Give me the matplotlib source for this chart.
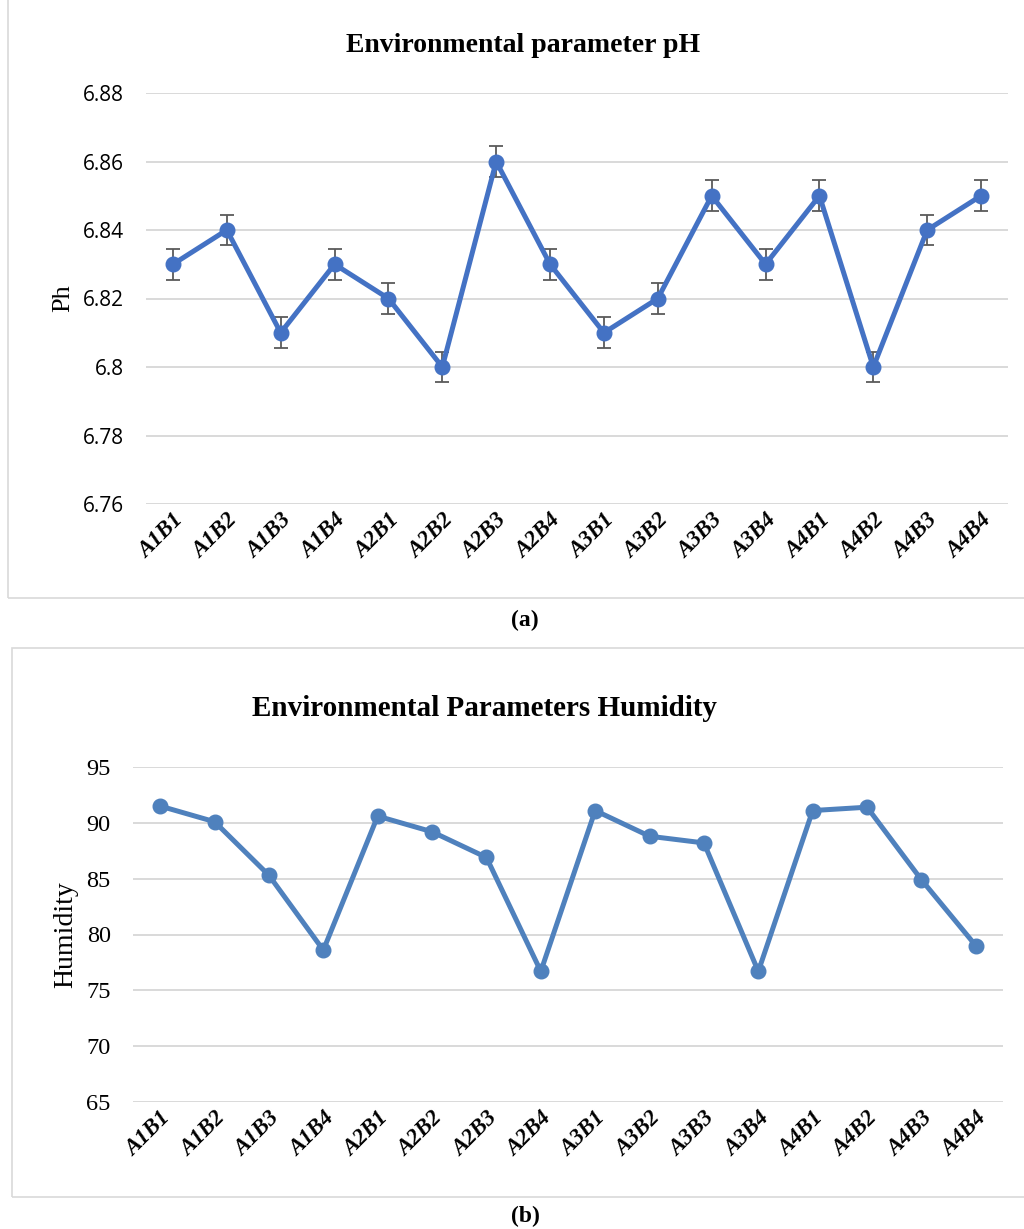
import matplotlib
matplotlib.use('Agg')
import matplotlib.pyplot as plt
from matplotlib.patches import Rectangle

treatments = ['A1B1', 'A1B2', 'A1B3', 'A1B4', 'A2B1', 'A2B2', 'A2B3', 'A2B4',
              'A3B1', 'A3B2', 'A3B3', 'A3B4', 'A4B1', 'A4B2', 'A4B3', 'A4B4']
ph_values = [6.83, 6.84, 6.81, 6.83, 6.82, 6.80, 6.86, 6.83,
             6.81, 6.82, 6.85, 6.83, 6.85, 6.80, 6.84, 6.85]
ph_err = [0.0045] * 16
humidity = [91.5, 90.1, 85.3, 78.6, 90.6, 89.2, 86.9, 76.7,
            91.1, 88.8, 88.2, 76.7, 91.1, 91.4, 84.9, 79.0]

SERIF = ['Liberation Serif', 'DejaVu Serif']
SANS = ['Open Sans', 'DejaVu Sans']
GRID = '#d9d9d9'

fig = plt.figure(figsize=(10.24, 12.29), dpi=100)

# chart frames
for (x0, y0, x1, y1) in [(8, -2, 1030, 598), (12, 648, 1030, 1197)]:
    fig.patches.append(Rectangle((x0 / 1024, 1 - y1 / 1229), (x1 - x0) / 1024, (y1 - y0) / 1229,
                                 transform=fig.transFigure, fill=False,
                                 edgecolor=GRID, lw=1.2))


def style_axes(ax, tick_family, ytick_size):
    for s in ax.spines.values():
        s.set_visible(False)
    ax.grid(axis='y', color=GRID, lw=1.4)
    ax.set_axisbelow(True)
    ax.tick_params(axis='y', length=0, pad=16)
    ax.tick_params(axis='x', length=0, pad=4)
    ax.set_xlim(-0.5, len(treatments) - 0.5)
    ax.set_xticks(range(len(treatments)))
    ax.set_xticklabels(treatments, rotation=45, ha='right', va='top',
                       rotation_mode='anchor', family=SERIF, fontweight='bold',
                       fontstyle='italic', fontsize=16.5)
    for lab in ax.get_yticklabels():
        lab.set_family(tick_family)
        lab.set_fontsize(ytick_size)


# (a) pH
ax1 = fig.add_axes([146 / 1024, 1 - 504 / 1229, 862 / 1024, 411 / 1229])
ax1.errorbar(range(len(treatments)), ph_values, yerr=ph_err, color='#4472C4',
             lw=3.6, marker='o', markersize=10.5, ecolor='#5a5a5a', elinewidth=1.3,
             capsize=5, capthick=1.3, zorder=3)
ax1.set_ylim(6.76, 6.88)
ax1.set_yticks([6.76, 6.78, 6.80, 6.82, 6.84, 6.86, 6.88])
ax1.set_yticklabels(['6.76', '6.78', '6.8', '6.82', '6.84', '6.86', '6.88'])
style_axes(ax1, SANS, 15)
ax1.set_ylabel('Ph', family=SERIF, fontsize=19, labelpad=6)
fig.text(523 / 1024, 1 - 46 / 1229, 'Environmental parameter pH', ha='center',
         va='center', family=SERIF, fontweight='bold', fontsize=20)
fig.text(525 / 1024, 1 - 620 / 1229, '(a)', ha='center', va='center',
         family=SERIF, fontweight='bold', fontsize=17)

# (b) Humidity
ax2 = fig.add_axes([133 / 1024, 1 - 1102 / 1229, 870 / 1024, 335 / 1229])
ax2.plot(range(len(treatments)), humidity, color='#4F81BD', lw=3.6,
         marker='o', markersize=10.5, zorder=3)
ax2.set_ylim(65, 95)
ax2.set_yticks([65, 70, 75, 80, 85, 90, 95])
style_axes(ax2, SERIF, 17.5)
ax2.set_ylabel('Humidity', family=SERIF, fontsize=20, labelpad=6)
fig.text(484 / 1024, 1 - 708 / 1229, 'Environmental Parameters Humidity', ha='center',
         va='center', family=SERIF, fontweight='bold', fontsize=21)
fig.text(525 / 1024, 1 - 1216 / 1229, '(b)', ha='center', va='center',
         family=SERIF, fontweight='bold', fontsize=17)

fig.savefig('out.png', dpi=100)
